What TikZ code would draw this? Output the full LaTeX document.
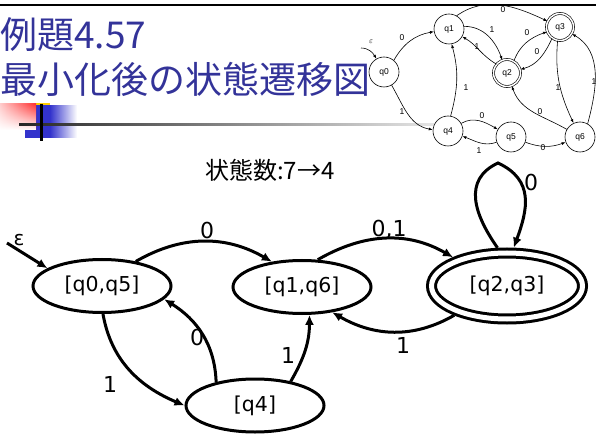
\documentclass[tikz,border=0pt]{standalone}
\usepackage{fontspec}
\setmainfont{DejaVu Sans}
\newfontfamily\jpfont{Noto Sans CJK JP}
\newfontfamily\figfont{Liberation Sans}
\usetikzlibrary{arrows.meta,shapes.geometric,fadings}
\definecolor{titleblue}{RGB}{51,51,153}
\definecolor{decoblue}{RGB}{51,51,204}
\definecolor{decored}{RGB}{255,51,51}
\definecolor{decoyellow}{RGB}{255,204,0}

\begin{document}
\begin{tikzpicture}[x=1pt,y=1pt]
        \tikzset{state/.style={ellipse,draw,line width=3pt,minimum width=138pt,minimum height=53pt,inner sep=0pt,font=\fontsize{20.5}{24}\selectfont},
                 accept/.style={state,double,double distance=5pt,outer sep=5.5pt,minimum width=151pt,minimum height=66pt},
                 trans/.style={line width=3pt,-{Latex[length=10pt,width=9pt]}},
                 lbl/.style={inner sep=0pt,font=\fontsize{22}{26}\selectfont},
                 st/.style={circle,draw,fill=white,line width=0.6pt,minimum size=30pt,inner sep=0pt,font=\figfont\fontsize{8.5}{10}\selectfont},
                 sacc/.style={st,double,double distance=1.5pt,minimum size=27pt},
                 thin/.style={line width=0.6pt,-{Latex[length=4pt,width=3pt]}},
                 slbl/.style={inner sep=0pt,font=\figfont\fontsize{8.5}{10}\selectfont},
                 title/.style={anchor=base west,inner sep=0pt,text=titleblue,font=\jpfont\fontsize{37}{40}\selectfont}}
        \useasboundingbox (0,0) rectangle (596,-435);
        % slide frame
        \draw[line width=2.7pt] (0,-5) -- (596,-5);
        \node[title] (t1) at (0,-49) {例題4.57};
        \node[title] (t2) at (0,-94) {最小化後の状態遷移図};
        \fill[decoyellow] (36,-103) rectangle (50,-106);
        \fill[decoblue] (25,-105.5) rectangle (50,-138);
        \shade[left color=decoblue,right color=white] (50,-105.5) rectangle (77,-138);
        \shade[left color=decored!25,right color=decored] (0,-104) rectangle (36,-130);
        \fill[white,path fading=north] (0,-104) rectangle (36,-130);
        \shade[left color=black!85,right color=black!10] (19,-123.3) rectangle (434,-126);
        \draw[line width=2.7pt] (41.3,-104) -- (41.3,-141);
        % original automaton
        \node[st] (q0) at (384,-72) {q0};
        \node[st] (q1) at (449,-29) {q1};
        \node[sacc] (q3) at (560,-27) {q3};
        \node[sacc] (q2) at (507,-73) {q2};
        \node[st] (q4) at (448,-131) {q4};
        \node[st] (q5) at (511,-137) {q5};
        \node[st] (q6) at (580,-137) {q6};
        \coordinate (s0) at (361,-48);
        \draw[thin] (s0) to[out=0,in=120] (q0.120);
        \draw[thin] (q0.50) to[out=60,in=190] (q1.190);
        \draw[thin] (q0.-60) to[out=-60,in=170] (q4.175);
        \draw[thin] (q1.60) to[out=35,in=155] (q3.155);
        \draw[thin] (q1.10) to[out=0,in=110] (q2.110);
        \draw[thin] (q2.140) to[out=150,in=-30] (q1.-30);
        \draw[thin] (q2.60) to[out=70,in=200] (q3.200);
        \draw[thin] (q3.235) to[out=245,in=15] (q2.15);
        \draw[thin] (q3.-100) to[out=-95,in=115] (q6.115);
        \draw[thin] (q6.60) to[out=75,in=-30] (q3.-30);
        \draw[thin] (q4.80) to[out=75,in=-75] (q1.-80);
        \draw[thin] (q4.30) to[out=30,in=150] (q5.150);
        \draw[thin] (q5.200) to[out=-160,in=-20] (q4.-20);
        \draw[thin] (q5.-20) to[out=-20,in=200] (q6.200);
        \draw[thin] (q6.150) to[out=150,in=-70] (q2.-70);
        \node[slbl] (se) at (371,-42) {$\varepsilon$};
        \node[slbl] (s01) at (402,-38) {0};
        \node[slbl] (s04) at (402,-112) {1};
        \node[slbl] (s13) at (503,-10) {0};
        \node[slbl] (s12) at (492,-30) {1};
        \node[slbl] (s21) at (477,-47) {1};
        \node[slbl] (s23) at (527,-33) {0};
        \node[slbl] (s32) at (537,-52) {0};
        \node[slbl] (s36) at (558,-88) {1};
        \node[slbl] (s63) at (594,-82) {1};
        \node[slbl] (s41) at (466,-88) {1};
        \node[slbl] (s45) at (482,-116) {0};
        \node[slbl] (s54) at (479,-151) {1};
        \node[slbl] (s56) at (543,-148) {0};
        \node[slbl] (s62) at (540,-112) {0};
        % minimized automaton
        \node[anchor=base west,inner sep=0pt,font=\jpfont\fontsize{24}{26}\selectfont] (cnt) at (205,-180) {状態数:7→4};
        \node[state] (q05) at (102,-286) {[q0,q5]};
        \node[state] (q16) at (302,-287) {[q1,q6]};
        \node[accept] (q23) at (507,-286) {[q2,q3]};
        \node[state] (q4m) at (255,-405.5) {[q4]};
        \coordinate (start) at (7,-243);
        \coordinate (top) at (498,-163);
        \node[lbl,font=\fontsize{20}{24}\selectfont] (eps) at (19,-240) {ε};
        \draw[trans] (start) -- (q05.162);
        \draw[trans] (q05.36) to[out=30,in=150] (q16.140);
        \draw[trans] (q16.60) to[out=30,in=150] (q23.152);
        \draw[trans] (q23.209) to[out=210,in=330] (q16.320);
        \draw[trans] (q23.104) to[out=125,in=-155,looseness=1.2] (top) to[out=-25,in=70,looseness=1.2] (q23.80);
        \draw[trans] (q05.272) to[out=-80,in=157] (q4m.180);
        \draw[trans] (q4m.149) to[out=92,in=-32] (q05.348);
        \draw[trans] (q4m.34) to[out=60,in=-90] (q16.285);
        \node[lbl] (l1) at (207,-230) {0};
        \node[lbl] (l2) at (389,-230) {0,1};
        \node[lbl] (l3) at (403,-345) {1};
        \node[lbl] (l4) at (531,-182) {0};
        \node[lbl] (l5) at (110,-384) {1};
        \node[lbl] (l6) at (197,-337) {0};
        \node[lbl] (l7) at (288,-355) {1};
    \end{tikzpicture}
\end{document}
